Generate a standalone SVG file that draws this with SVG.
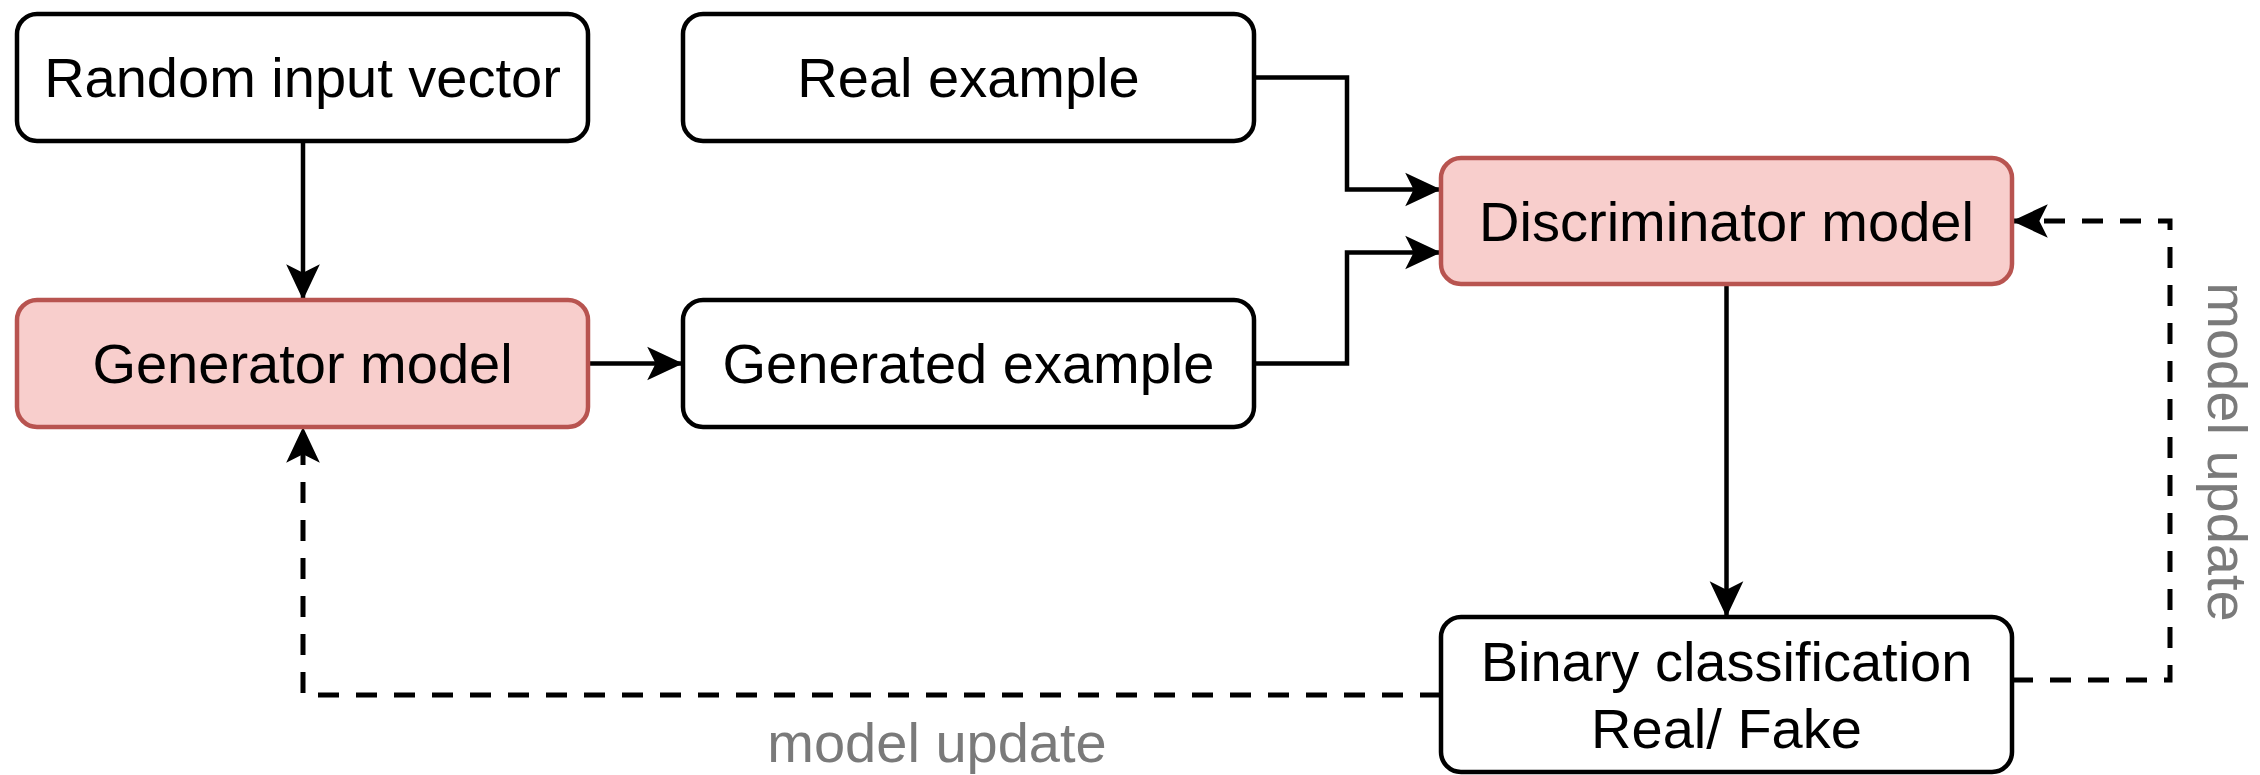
<svg xmlns="http://www.w3.org/2000/svg" width="2260" height="775" viewBox="0 0 2260 775">
<style>
.box{fill:#ffffff;stroke:#000000;stroke-width:4.5}
.pink{fill:#f8cecc;stroke:#b85450;stroke-width:4.5}
.t{font-family:"Liberation Sans",Arial,sans-serif;font-size:56px;fill:#000000;text-anchor:middle}
.lbl{font-family:"Liberation Sans",Arial,sans-serif;font-size:56px;fill:#7a7a7a;text-anchor:middle}
.c{fill:none;stroke:#000000;stroke-width:4.5}
.d{fill:none;stroke:#000000;stroke-width:5;stroke-dasharray:21 17}
</style>
<defs>
<marker id="arr" markerUnits="userSpaceOnUse" markerWidth="40" markerHeight="40" viewBox="-36 -18 38 36" refX="0" refY="0" orient="auto">
<path d="M0,0 L-34,-16 L-26,0 L-34,16 Z" fill="#000000" stroke="none"/>
</marker>
</defs>
<rect width="2260" height="775" fill="#ffffff"/>
<g id="connectors">
<path class="c" d="M303,141 V300" marker-end="url(#arr)"/>
<path class="c" d="M588,363.5 H683" marker-end="url(#arr)"/>
<path class="c" d="M1254,77.5 H1347 V189.5 H1441" marker-end="url(#arr)"/>
<path class="c" d="M1254,363.5 H1347 V252.5 H1441" marker-end="url(#arr)"/>
<path class="c" d="M1726.5,284 V617" marker-end="url(#arr)"/>
<path class="d" d="M2012,680 H2170 V221 H2012" marker-end="url(#arr)"/>
<path class="d" d="M1441,695 H303 V427" marker-end="url(#arr)"/>
<text class="lbl" x="937" y="762">model update</text>
<text class="lbl" transform="translate(2208,452) rotate(90)" x="0" y="0">model update</text>
</g>
<g id="random">
<rect class="box" x="17" y="14" width="571" height="127" rx="20"/>
<text class="t" x="302.5" y="97">Random input vector</text>
</g>
<g id="real">
<rect class="box" x="683" y="14" width="571" height="127" rx="20"/>
<text class="t" x="968.5" y="97">Real example</text>
</g>
<g id="generator">
<rect class="pink" x="17" y="300" width="571" height="127" rx="20"/>
<text class="t" x="302.5" y="383">Generator model</text>
</g>
<g id="generated">
<rect class="box" x="683" y="300" width="571" height="127" rx="20"/>
<text class="t" x="968.5" y="383">Generated example</text>
</g>
<g id="discriminator">
<rect class="pink" x="1441" y="158" width="571" height="126" rx="20"/>
<text class="t" x="1726.5" y="241">Discriminator model</text>
</g>
<g id="binary">
<rect class="box" x="1441" y="617" width="571" height="155" rx="20"/>
<text class="t" x="1726.5" y="681">Binary classification</text>
<text class="t" x="1726.5" y="748">Real/ Fake</text>
</g>
</svg>
